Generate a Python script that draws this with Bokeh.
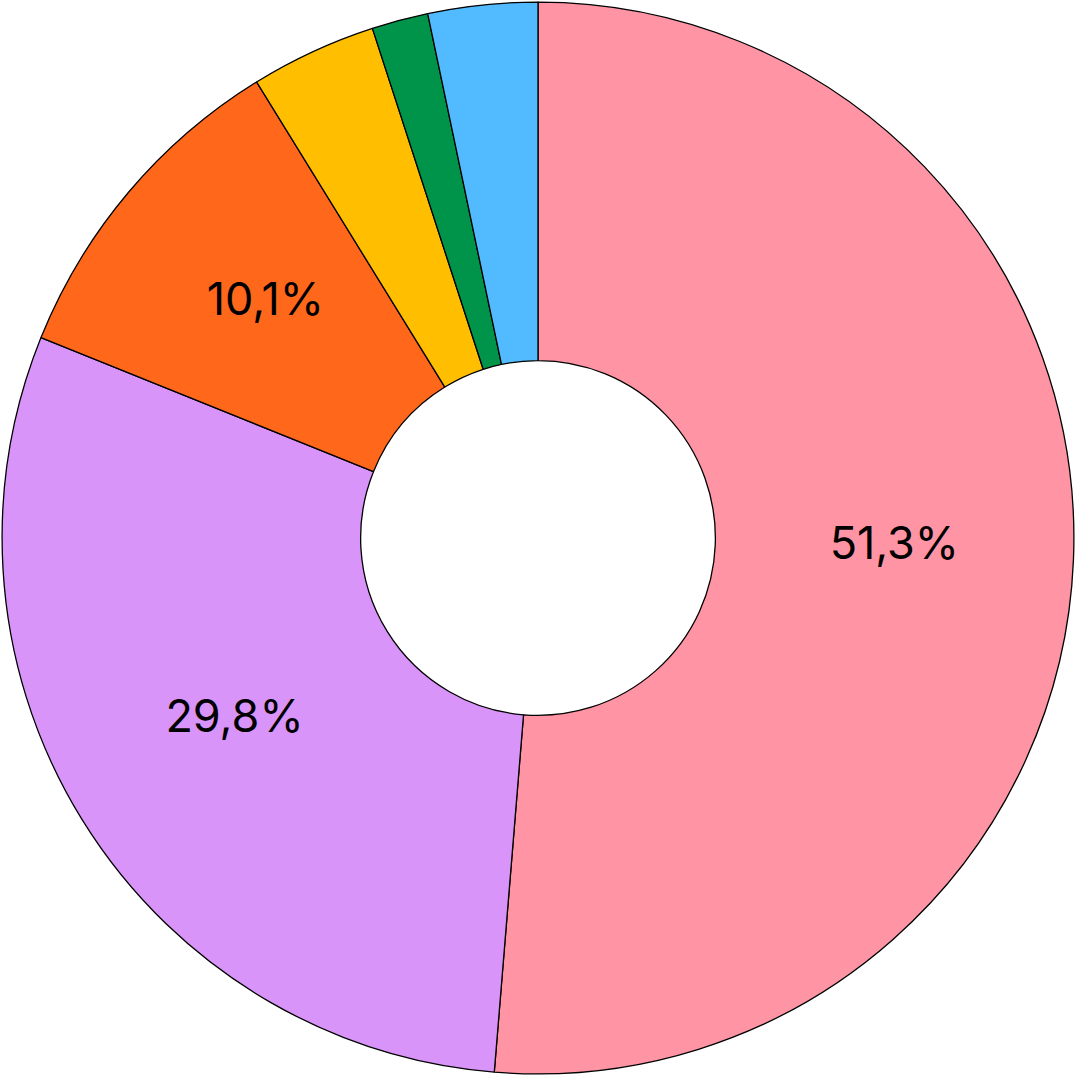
import math
from bokeh.plotting import figure
from bokeh.models import ColumnDataSource, Range1d
from bokeh.core.properties import value
from bokeh.embed import file_html
from bokeh.resources import INLINE

categories = ["A", "B", "C", "D", "E", "F"]
shares = [51.3, 29.8, 10.1, 3.8, 1.7, 3.3]
colors = ["#FF94A4", "#D994F9", "#FF671B", "#FFBF00", "#00944A", "#52BAFF"]
show_label = [True, True, True, False, False, False]

total = sum(shares)
starts, ends, lx, ly, labels = [], [], [], [], []
cum = 0.0
inner_r, outer_r = 0.331, 1.0
mid_r = (inner_r + outer_r) / 2
for s, show in zip(shares, show_label):
    a0 = math.pi / 2 - 2 * math.pi * cum / total
    a1 = math.pi / 2 - 2 * math.pi * (cum + s) / total
    starts.append(a0)
    ends.append(a1)
    am = (a0 + a1) / 2
    lx.append(mid_r * math.cos(am))
    ly.append(mid_r * math.sin(am))
    labels.append(f"{s:.1f}%".replace(".", ",") if show else "")
    cum += s

src = ColumnDataSource(dict(cat=categories, start=starts, end=ends, color=colors))
lsrc = ColumnDataSource(dict(x=lx, y=ly, text=labels))

p = figure(width=1075, height=1075, output_backend="svg", toolbar_location=None,
           x_range=Range1d(-1.003, 1.003), y_range=Range1d(-1.003, 1.003),
           min_border=0)
p.axis.visible = False
p.grid.visible = False
p.outline_line_color = None
p.background_fill_color = "white"

p.annular_wedge(x=0, y=0, inner_radius=inner_r, outer_radius=outer_r,
                start_angle="start", end_angle="end", direction="clock",
                fill_color="color", line_color="black", line_width=1.3, source=src)

p.text(x="x", y="y", text="text", source=lsrc, text_align="center",
       text_baseline="middle", text_font=value("Inter"), text_font_size="45px",
       text_color="black", y_offset=-10)

open("out.html", "w").write(file_html(p, INLINE))
